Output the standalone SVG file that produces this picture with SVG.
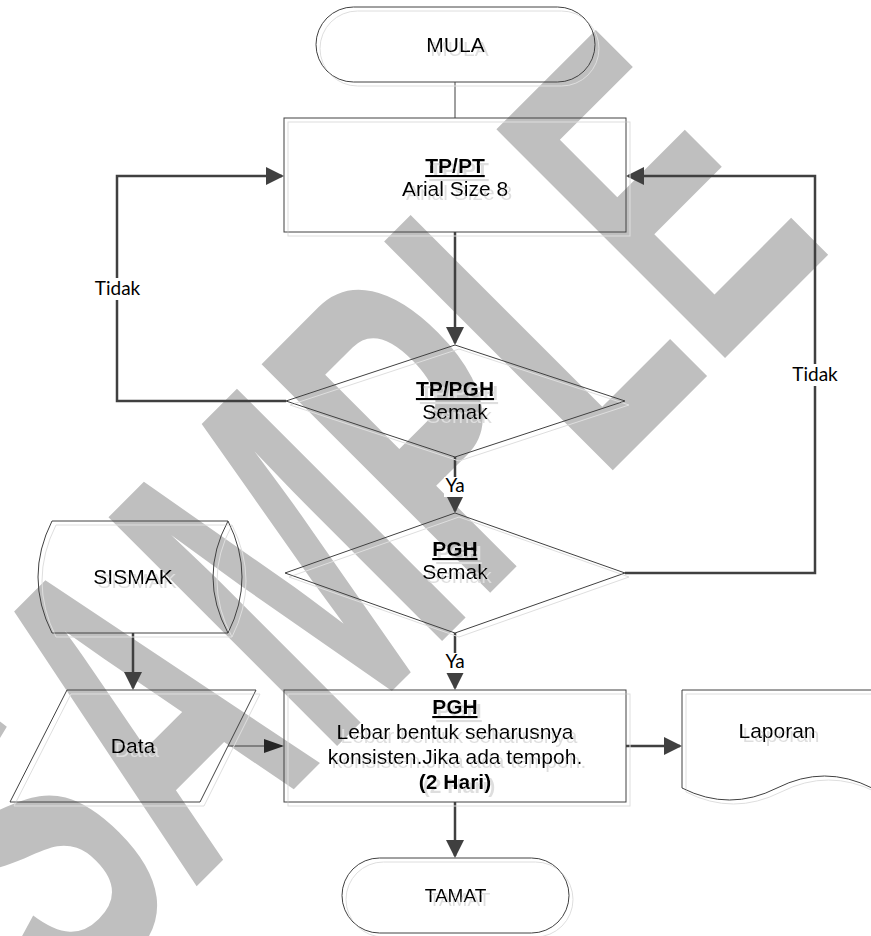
<svg xmlns="http://www.w3.org/2000/svg" width="871" height="936" viewBox="0 0 871 936">
<defs>
<style>
.shape{fill:none;stroke:#404040;stroke-width:1}
.t{font-family:"Liberation Sans",Arial,sans-serif;font-size:21px;fill:#000;text-anchor:middle}
.b{font-weight:bold;text-decoration:underline}
.bo{font-weight:bold}
.conn{fill:none;stroke:#404040;stroke-width:2.5}
.thin{fill:none;stroke:#404040;stroke-width:1}
.lbl{font-family:Lato,"Open Sans",sans-serif;font-size:19px;fill:#000;text-anchor:middle}
.lblbg{fill:#fff}
.wm{font-family:"Liberation Sans",Arial,sans-serif;font-weight:bold;font-size:470px;fill:#bfbfbf}
</style>
<filter id="sh" x="-10%" y="-10%" width="125%" height="125%">
<feOffset in="SourceAlpha" dx="4" dy="4" result="o"/>
<feFlood flood-color="#dedede"/>
<feComposite in2="o" operator="in" result="s"/>
<feMerge><feMergeNode in="s"/><feMergeNode in="SourceGraphic"/></feMerge>
</filter>
<marker id="ah" markerUnits="userSpaceOnUse" markerWidth="18" markerHeight="18" refX="16" refY="9" orient="auto"><path d="M0,0 L18,9 L0,18 z" fill="#404040"/></marker>
<marker id="ah2" markerUnits="userSpaceOnUse" markerWidth="20" markerHeight="14" refX="18" refY="7" orient="auto"><path d="M0,0 L20,7 L0,14 z" fill="#262626"/></marker>
</defs>
<rect width="871" height="936" fill="#fff"/>
<g id="watermark">
<text class="wm" transform="translate(69.5,1013.5) rotate(-45) scale(0.553,1)">SAMPLE</text>
</g>
<g id="connectors">
<line class="thin" x1="455" y1="82" x2="455" y2="118"/>
<path class="conn" d="M455,232 V343" marker-end="url(#ah)"/>
<path class="conn" d="M286,401 H117 V176 H282" marker-end="url(#ah)"/>
<path class="conn" d="M455,457 V511" marker-end="url(#ah)"/>
<path class="conn" d="M625,573 H815 V176 H628" marker-end="url(#ah)"/>
<path class="conn" d="M455,633 V688" marker-end="url(#ah)"/>
<path class="conn" d="M455,802 V856" marker-end="url(#ah)"/>
<path class="conn" d="M133,633 V688" marker-end="url(#ah)"/>
<path class="thin" d="M228,746 H282" marker-end="url(#ah2)"/>
<path class="conn" d="M626,746 H680" marker-end="url(#ah)"/>
<rect class="lblbg" x="95" y="278" width="45" height="22"/>
<text class="lbl" x="117.5" y="295">Tidak</text>
<rect class="lblbg" x="792" y="364" width="46" height="22"/>
<text class="lbl" x="815" y="381">Tidak</text>
<rect class="lblbg" x="444" y="477" width="22" height="20"/>
<text class="lbl" x="455" y="492">Ya</text>
<rect class="lblbg" x="444" y="653" width="22" height="20"/>
<text class="lbl" x="455" y="668">Ya</text>
</g>
<g id="mula" filter="url(#sh)">
<rect class="shape" x="316" y="7" width="279" height="75" rx="37.5"/>
<text class="t" x="455.5" y="52">MULA</text>
</g>
<g id="tppt" filter="url(#sh)">
<rect class="shape" x="284" y="118" width="342" height="114"/>
<text class="t b" x="455" y="173">TP/PT</text>
<text class="t" x="455" y="196">Arial Size 8</text>
</g>
<g id="semak1" filter="url(#sh)">
<polygon class="shape" points="455,345 625,401 455,457 286,401"/>
<text class="t b" x="455" y="396">TP/PGH</text>
<text class="t" x="455" y="419">Semak</text>
</g>
<g id="semak2" filter="url(#sh)">
<polygon class="shape" points="455,513 625,573 455,633 285,573"/>
<text class="t b" x="455" y="556">PGH</text>
<text class="t" x="455" y="579">Semak</text>
</g>
<g id="sismak" filter="url(#sh)">
<path class="shape" d="M52,521 L228,521 Q256,577 228,633 L52,633 Q24,577 52,521 Z M228,521 Q198,577 228,633"/>
<text class="t" x="133" y="584">SISMAK</text>
</g>
<g id="data" filter="url(#sh)">
<polygon class="shape" points="67,690 256,690 200,802 10,802"/>
<text class="t" x="133" y="753">Data</text>
</g>
<g id="pgh" filter="url(#sh)">
<rect class="shape" x="284" y="690" width="342" height="112"/>
<text class="t b" x="455" y="714">PGH</text>
<text class="t" x="455" y="739">Lebar bentuk seharusnya</text>
<text class="t" x="455" y="764">konsisten.Jika ada tempoh.</text>
<text class="t bo" x="455" y="789">(2 Hari)</text>
</g>
<g id="laporan" filter="url(#sh)">
<path class="shape" d="M682,788 V690 H872 V788 M682,788 Q729.5,812 777,788 T872,788"/>
<text class="t" x="777" y="738">Laporan</text>
</g>
<g id="tamat" filter="url(#sh)">
<rect class="shape" x="342" y="858" width="227" height="75" rx="37.5"/>
<text class="t" x="455.5" y="902" style="font-size:19px">TAMAT</text>
</g>
</svg>
